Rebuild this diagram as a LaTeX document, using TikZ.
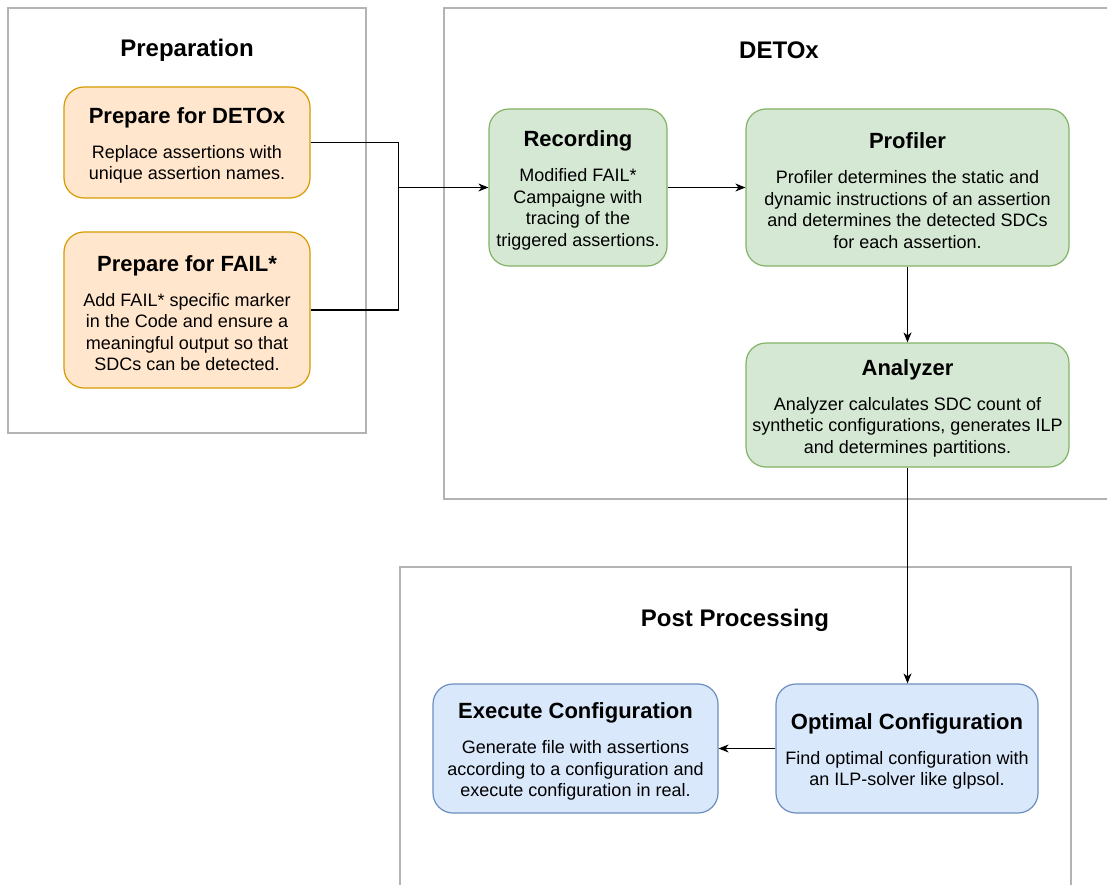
\documentclass[tikz,border=0pt]{standalone}
\usepackage{fontspec}
\setmainfont{Liberation Sans}
\usetikzlibrary{arrows.meta}

\definecolor{framegray}{HTML}{B3B3B3}
\definecolor{prepfill}{HTML}{FFE6CC}
\definecolor{prepdraw}{HTML}{D79B00}
\definecolor{detofill}{HTML}{D5E8D4}
\definecolor{detodraw}{HTML}{82B366}
\definecolor{postfill}{HTML}{DAE8FC}
\definecolor{postdraw}{HTML}{6C8EBF}

% bold heading of a step card, with a little extra room above it
\newcommand{\cardtitle}[1]{{\fontsize{22}{26}\selectfont\bfseries\rule{0pt}{22pt}#1}\\[13.5pt]}

\begin{document}
\begin{tikzpicture}[x=1pt,y=-1pt,
  section/.style={draw=framegray, line width=1.3pt},
  sectiontitle/.style={font=\fontsize{24}{28}\selectfont\bfseries, inner sep=0pt},
  card/.style={rounded corners=20pt, line width=1.2pt, align=center,
    inner sep=0pt, font=\fontsize{18}{21.5}\selectfont},
  prepcard/.style={card, draw=prepdraw, fill=prepfill},
  detocard/.style={card, draw=detodraw, fill=detofill},
  postcard/.style={card, draw=postdraw, fill=postfill},
  link/.style={line width=1.2pt},
  flow/.style={link, -{Stealth[length=10pt,width=8pt,inset=3pt]}}
]
\useasboundingbox (0,0) rectangle (1107,885);
\clip (0,0) rectangle (1107,885);
\fill[white] (0,0) rectangle (1107,885);

% stage frames
\draw[section] (8,8) rectangle (366,433);
\draw[section] (444,8) rectangle (1130,499);
\draw[section] (400,567) rectangle (1071,910);
\node[sectiontitle] (preptitle) at (187,50) {Preparation};
\node[sectiontitle] (detotitle) at (779,50) {DETOx};
\node[sectiontitle] (posttitle) at (735,620) {Post Processing};

% preparation steps
\node[prepcard, minimum width=246pt, minimum height=111pt] (prepdetox) at (187,142.5)
  {\cardtitle{Prepare for DETOx}Replace assertions with\\unique assertion names.};
\node[prepcard, minimum width=246pt, minimum height=156pt] (prepfail) at (187,310)
  {\cardtitle{Prepare for FAIL*}Add FAIL* specific marker\\in the Code and ensure a\\meaningful output so that\\SDCs can be detected.};

% DETOx steps
\node[detocard, minimum width=178pt, minimum height=157pt] (recording) at (578,187.5)
  {\cardtitle{Recording}Modified FAIL*\\Campaigne with\\tracing of the\\triggered assertions.};
\node[detocard, minimum width=323pt, minimum height=157pt] (profiler) at (907.5,187.5)
  {\cardtitle{Profiler}Profiler determines the static and\\dynamic instructions of an assertion\\and determines the detected SDCs\\for each assertion.};
\node[detocard, minimum width=323pt, minimum height=124pt] (analyzer) at (907.5,405)
  {\cardtitle{Analyzer}Analyzer calculates SDC count of\\synthetic configurations, generates ILP\\and determines partitions.};

% post processing steps
\node[postcard, minimum width=285pt, minimum height=129pt] (execute) at (575.5,748.5)
  {\cardtitle{Execute Configuration}Generate file with assertions\\according to a configuration and\\execute configuration in real.};
\node[postcard, minimum width=262pt, minimum height=129pt] (optimal) at (907,748.5)
  {\cardtitle{Optimal Configuration}Find optimal configuration with\\an ILP-solver like glpsol.};

% connectors
\path (recording.west) ++(-90,0) coordinate (join);
\draw[link] (prepdetox.east) -| (join);
\draw[link] (prepfail.east) -| (join);
\draw[flow] (join) -- (recording.west);
\draw[flow] (recording.east) -- (profiler.west);
\draw[flow] (profiler.south) -- (analyzer.north);
\draw[flow] (analyzer.south) -- (analyzer.south |- optimal.north);
\draw[flow] (optimal.west) -- (execute.east);
\end{tikzpicture}
\end{document}
